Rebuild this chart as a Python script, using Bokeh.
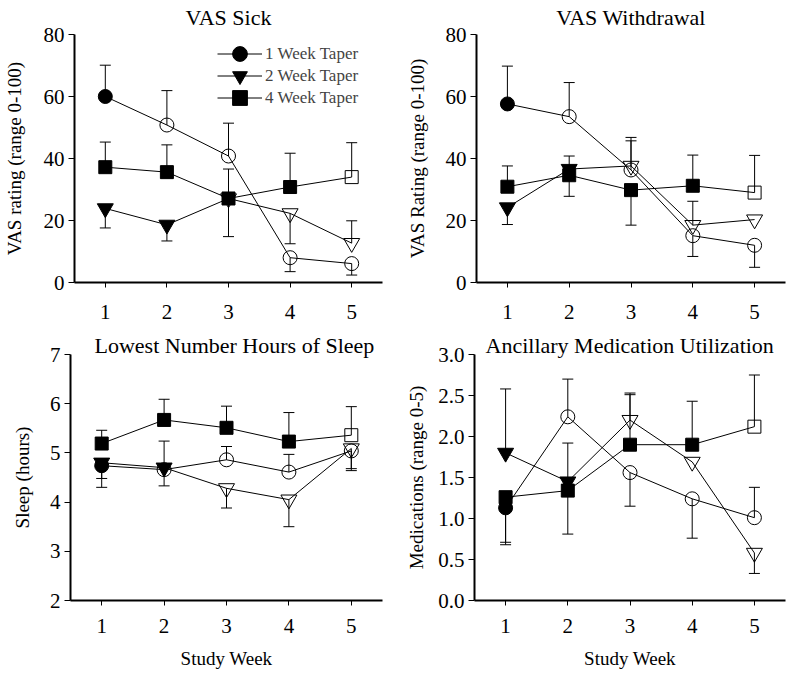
from bokeh.plotting import figure
from bokeh.models import Range1d, FixedTicker, Legend, LegendItem, NumeralTickFormatter
from bokeh.layouts import row, column
from bokeh.embed import file_html
from bokeh.resources import INLINE

# ---------------- data ----------------
weeks = [1, 2, 3, 4, 5]
week_labels = ["1", "2", "3", "4", "5"]
groups = ["1 Week Taper", "2 Week Taper", "4 Week Taper"]
taper_weeks = [1, 2, 4]          # weeks drawn with filled symbols

# VAS Sick
sick_1wk = [60.0, 50.8, 40.8, 8.0, 6.1]
sick_1wk_err = [70.1, 61.9, 51.4, 3.5, 2.4]
sick_2wk = [23.9, 18.6, 27.1, 22.3, 12.7]
sick_2wk_err = [17.6, 13.4, 14.8, 12.5, 19.9]
sick_4wk = [37.2, 35.6, 27.1, 30.8, 34.0]
sick_4wk_err = [45.3, 44.4, 36.6, 41.7, 45.1]

# VAS Withdrawal
wd_1wk = [57.6, 53.5, 36.3, 15.1, 12.0]
wd_1wk_err = [69.8, 64.5, 46.8, 8.4, 4.9]
wd_2wk = [24.2, 36.6, 37.6, 18.5, 20.3]
wd_2wk_err = [18.7, 40.8, 45.7, 26.2, None]
wd_4wk = [30.9, 34.6, 29.8, 31.2, 29.0]
wd_4wk_err = [37.6, 27.8, 18.5, 41.1, 41.0]

# Lowest Number Hours of Sleep
sleep_1wk = [4.74, 4.66, 4.86, 4.61, 5.04]
sleep_1wk_err = [4.30, 5.24, 5.13, 4.97, 4.64]
sleep_2wk = [4.80, 4.70, 4.28, 4.05, 5.09]
sleep_2wk_err = [4.48, 4.33, 3.88, 3.50, 4.68]
sleep_4wk = [5.19, 5.67, 5.51, 5.23, 5.36]
sleep_4wk_err = [5.46, 6.09, 5.95, 5.82, 5.94]

# Ancillary Medication Utilization
med_1wk = [1.13, 2.24, 1.56, 1.24, 1.01]
med_1wk_err = [0.68, 2.70, 1.15, 0.76, 1.38]
med_2wk = [1.80, 1.45, 2.20, 1.69, 0.58]
med_2wk_err = [2.58, 1.92, 2.53, None, 0.33]
med_4wk = [1.26, 1.34, 1.90, 1.90, 2.12]
med_4wk_err = [0.71, 0.81, 2.51, 2.43, 2.75]

vas_ticks = [0, 20, 40, 60, 80]
sleep_ticks = [2, 3, 4, 5, 6, 7]
med_ticks = [0.0, 0.5, 1.0, 1.5, 2.0, 2.5, 3.0]

# ---------------- style ----------------
FONT = "Liberation Serif"
MARKERS = ["circle", "inverted_triangle", "square"]
SIZES = [14, 16, 13]
LEGEND_ROW_Y = [210, 188, 166]   # screen offsets of the legend rows


def make_panel(title, ylabel, yrange, yticks, series, errs, width, height,
               bl, br, bt, bb, ylab_standoff, xtick_standoff,
               title_align="center", title_offset=0, title_valign="top",
               title_standoff=6, xlabel=None, fmt=None, legend=False):
    p = figure(width=width, height=height, output_backend="svg",
               toolbar_location=None,
               x_range=Range1d(0.5, 5.5), y_range=Range1d(*yrange),
               min_border_left=bl, min_border_right=br,
               min_border_top=bt, min_border_bottom=bb)
    p.outline_line_color = None
    p.grid.visible = False

    p.title.text = title
    p.title.align = title_align
    p.title.offset = title_offset
    p.title.vertical_align = title_valign
    p.title.standoff = title_standoff
    p.title.text_font = FONT
    p.title.text_font_size = "22px"
    p.title.text_font_style = "normal"
    p.title.text_color = "black"

    for ax in (p.xaxis[0], p.yaxis[0]):
        ax.axis_line_width = 2
        ax.major_tick_in = 0
        ax.major_tick_out = 6
        ax.minor_tick_line_color = None
        ax.major_label_text_font = FONT
        ax.major_label_text_font_size = "21px"
        ax.major_label_text_color = "black"
        ax.axis_label_text_font = FONT
        ax.axis_label_text_font_size = "19px"
        ax.axis_label_text_font_style = "normal"
        ax.axis_label_text_color = "black"
    p.xaxis.ticker = FixedTicker(ticks=weeks)
    p.xaxis.major_label_overrides = {w: s for w, s in zip(weeks, week_labels)}
    p.xaxis.major_label_standoff = xtick_standoff
    p.xaxis.major_tick_out = 5
    p.yaxis.ticker = FixedTicker(ticks=yticks)
    p.yaxis.major_label_standoff = 4
    p.yaxis.axis_label = ylabel
    p.yaxis.axis_label_standoff = ylab_standoff
    if fmt:
        p.yaxis.formatter = NumeralTickFormatter(format=fmt)
    if xlabel:
        p.xaxis.axis_label = xlabel
        p.xaxis.axis_label_standoff = 12

    items = []
    for gi, (vals, ev) in enumerate(zip(series, errs)):
        xs = [w for w, e in zip(weeks, ev) if e is not None]
        y0 = [v for v, e in zip(vals, ev) if e is not None]
        y1 = [e for e in ev if e is not None]
        p.segment(x0=xs, y0=y0, x1=xs, y1=y1, line_color="black", line_width=1)
        p.scatter(x=xs, y=y1, marker="dash", size=11, line_color="black",
                  line_width=1)
    for gi, vals in enumerate(series):
        lr = p.line(weeks, vals, line_color="black", line_width=1)
        fx = [w for w in weeks if w <= taper_weeks[gi]]
        fy = [v for w, v in zip(weeks, vals) if w <= taper_weeks[gi]]
        ox = [w for w in weeks if w > taper_weeks[gi]]
        oy = [v for w, v in zip(weeks, vals) if w > taper_weeks[gi]]
        fr = p.scatter(x=fx, y=fy, marker=MARKERS[gi], size=SIZES[gi],
                       fill_color="black", line_color="black", line_width=1)
        p.scatter(x=ox, y=oy, marker=MARKERS[gi], size=SIZES[gi],
                  fill_alpha=0, line_color="black", line_width=1)
        items.append(LegendItem(label=groups[gi], renderers=[lr, fr], index=0))

    if legend:
        # one legend per entry so that the symbols can be drawn full size
        for item, ly in zip(items, LEGEND_ROW_Y):
            lg = Legend(items=[item], location=(143, ly), glyph_width=45,
                        glyph_height=37, label_standoff=3, spacing=0, padding=0,
                        margin=0, border_line_color=None,
                        background_fill_alpha=0, label_text_font=FONT,
                        label_text_font_size="17px", label_height=20)
            p.add_layout(lg)
    return p


p1 = make_panel("VAS Sick", "VAS rating (range 0-100)", (0, 80), vas_ticks,
                [sick_1wk, sick_2wk, sick_4wk],
                [sick_1wk_err, sick_2wk_err, sick_4wk_err],
                403, 330, 70, 21, 34, 48, 16, 17, legend=True)
p2 = make_panel("VAS Withdrawal", "VAS Rating (range 0-100)", (0, 80), vas_ticks,
                [wd_1wk, wd_2wk, wd_4wk],
                [wd_1wk_err, wd_2wk_err, wd_4wk_err],
                384, 330, 70, 2, 34, 48, 15, 17)
p3 = make_panel("Lowest Number Hours of Sleep", "Sleep (hours)", (2, 7),
                sleep_ticks, [sleep_1wk, sleep_2wk, sleep_4wk],
                [sleep_1wk_err, sleep_2wk_err, sleep_4wk_err],
                403, 341, 70, 21, 24, 70, 14, 13,
                title_align="left", title_offset=24, title_valign="bottom",
                title_standoff=-7, xlabel="Study Week")
p4 = make_panel("Ancillary Medication Utilization", "Medications (range 0-5)",
                (0, 3), med_ticks, [med_1wk, med_2wk, med_4wk],
                [med_1wk_err, med_2wk_err, med_4wk_err],
                384, 341, 70, 2, 24, 70, 8, 13,
                title_align="left", title_offset=11, title_valign="bottom",
                title_standoff=-7, xlabel="Study Week", fmt="0.0")

layout = column(row(p1, p2), row(p3, p4))
open("out.html", "w").write(file_html(layout, INLINE))
